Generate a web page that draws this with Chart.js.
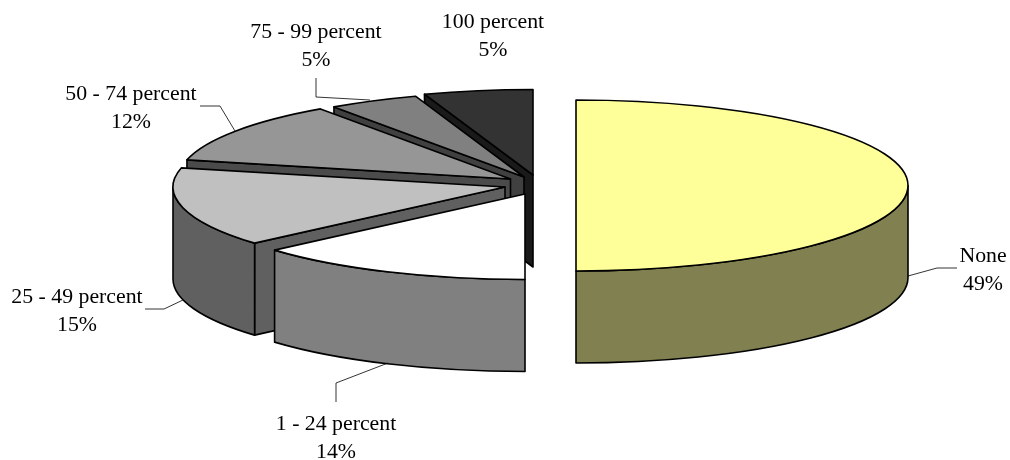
<!DOCTYPE html>
<html>
<head>
    <title>Exploded 3D pie</title>
    <script src="https://cdn.jsdelivr.net/npm/chart.js"></script>
    <style>
      html, body { margin: 0; padding: 0; background: #fff; }
      canvas { display: block; }
    </style>
</head>
<body>
    <canvas id="pieChart" width="1010" height="460"></canvas>

    <script>
    // slice shares (the printed labels are rounded)
    const categories = ['None', '1 - 24 percent', '25 - 49 percent', '50 - 74 percent', '75 - 99 percent', '100 percent'];
    const shares = [50, 13.6, 15, 11.7, 4.4, 5.3];
    const percentLabels = ['49%', '14%', '15%', '12%', '5%', '5%'];
    const topColors = ['#FFFF99', '#FFFFFF', '#C0C0C0', '#969696', '#808080', '#333333'];
    const wallColors = ['#808050', '#808080', '#606060', '#4B4B4B', '#404040', '#1A1A1A'];

    const squash = 0.2575;  // flatten the circle into the tilted ellipse
    const depth = 92;       // height of the pie walls
    const explode = [[71, -44.5], [20, -36], [0, -43], [5.5, -51], [19, -53], [28, -55]];
    const labelPos = [[983, 262], [336, 430], [77, 303], [131, 99.5], [316, 38], [493, 27.5]];
    const leaders = [
      [[908, 276], [937, 268], [957, 268]],
      [[388, 363], [336, 383], [336, 402]],
      [[183, 300], [164, 309], [145, 309]],
      [[235, 131], [220, 106], [200, 106]],
      [[316, 78], [316, 97], [370, 100]]
    ];

    const pie3d = {
      id: 'pie3d',
      // paints back to front, walls first and then the library's own arc on top
      beforeDatasetDraw(chart) {
        const ctx = chart.ctx;
        const arcs = chart.getDatasetMeta(0).data;
        const outline = () => {
          ctx.strokeStyle = '#000';
          ctx.lineWidth = 1.6;
          ctx.lineJoin = 'round';
          ctx.stroke();
        };

        [5, 4, 3, 2, 1, 0].forEach(i => {
          const arc = arcs[i];
          const r = arc.outerRadius;
          const cx = arc.x + explode[i][0];
          const cy = arc.y + explode[i][1];
          const a0 = arc.startAngle;
          const a1 = arc.endAngle;
          const px = a => cx + r * Math.cos(a);
          const py = a => cy + r * squash * Math.sin(a);

          ctx.fillStyle = wallColors[i];

          // straight cut face, only when it looks towards the viewer
          if (Math.cos(a0) < -0.001) {
            ctx.beginPath();
            ctx.moveTo(cx, cy);
            ctx.lineTo(px(a0), py(a0));
            ctx.lineTo(px(a0), py(a0) + depth);
            ctx.lineTo(cx, cy + depth);
            ctx.closePath();
            ctx.fill();
            outline();
          }

          // curved outer wall, front half of the ellipse only
          const from = Math.max(a0, 0);
          const to = Math.min(a1, Math.PI);
          if (to > from) {
            ctx.beginPath();
            ctx.ellipse(cx, cy, r, r * squash, 0, from, to);
            ctx.ellipse(cx, cy + depth, r, r * squash, 0, to, from, true);
            ctx.closePath();
            ctx.fill();
            outline();
          }

          ctx.save();
          ctx.translate(cx, cy);
          ctx.scale(1, squash);
          ctx.translate(-arc.x, -arc.y);
          arc.draw(ctx);
          ctx.restore();

          // stroke outside the scaled transform so the line stays even
          ctx.beginPath();
          ctx.moveTo(cx, cy);
          ctx.ellipse(cx, cy, r, r * squash, 0, a0, a1);
          ctx.closePath();
          outline();
        });
        return false;
      },
      afterDraw(chart) {
        const ctx = chart.ctx;
        ctx.save();
        ctx.strokeStyle = '#000';
        ctx.lineWidth = 0.8;
        leaders.forEach(line => {
          ctx.beginPath();
          line.forEach((p, k) => k ? ctx.lineTo(p[0], p[1]) : ctx.moveTo(p[0], p[1]));
          ctx.stroke();
        });
        ctx.fillStyle = '#000';
        ctx.font = '21.8px "Liberation Serif"';
        ctx.textAlign = 'center';
        ctx.textBaseline = 'alphabetic';
        categories.forEach((name, i) => {
          ctx.fillText(name, labelPos[i][0], labelPos[i][1]);
          ctx.fillText(percentLabels[i], labelPos[i][0], labelPos[i][1] + 28);
        });
        ctx.restore();
      }
    };

    new Chart(document.getElementById('pieChart'), {
      type: 'pie',
      data: {
        labels: categories,
        datasets: [{
          data: shares,
          backgroundColor: topColors,
          borderWidth: 0,
          radius: 332
        }]
      },
      options: {
        responsive: false,
        animation: false,
        events: [],
        plugins: { legend: { display: false }, tooltip: { enabled: false } }
      },
      plugins: [pie3d]
    });
    </script>
</body>
</html>
